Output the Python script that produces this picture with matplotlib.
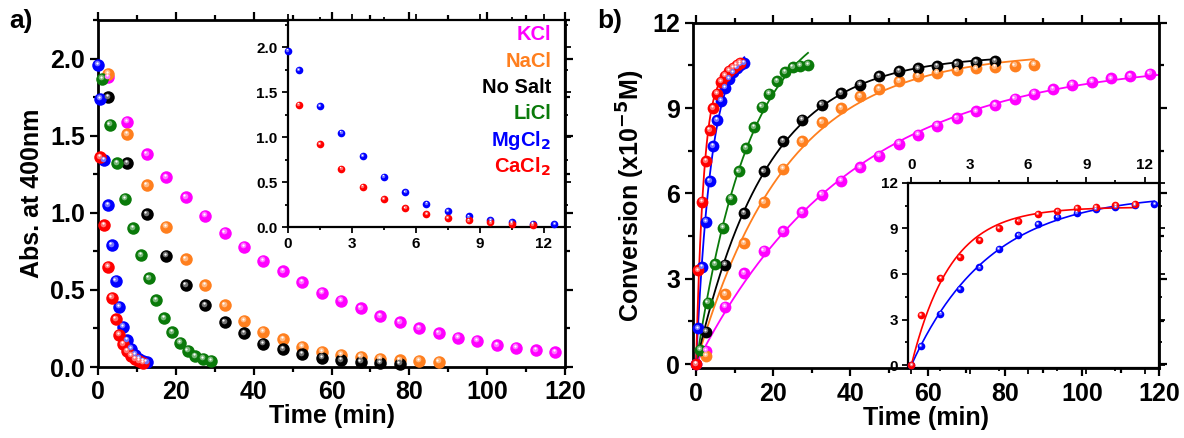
import numpy as np
import matplotlib.pyplot as plt
from matplotlib.ticker import MultipleLocator, FormatStrFormatter
from matplotlib.transforms import offset_copy
from matplotlib.colors import to_rgb

plt.rcParams['font.family'] = ['Liberation Sans', 'DejaVu Sans']
plt.rcParams['font.weight'] = 'bold'
plt.rcParams['mathtext.default'] = 'bf'

# ---- data ----
names = ['KCl', 'NaCl', 'No Salt', 'LiCl', 'MgCl$_2$', 'CaCl$_2$']
colors = ['#FF00FF', '#FF7F1E', '#000000', '#0A7A0A', '#0000FF', '#FF0000']

t_kcl = np.arange(2.5, 118, 5.0)
t_nacl = np.arange(2.5, 88, 5.0)
t_nosalt = np.arange(2.5, 78, 5.0)
t_licl = np.arange(1, 30, 2.0)
t_mgcl2 = np.array([0, 0.5, 1.5, 2.5, 3.5, 4.5, 5.5, 6.5, 7.5, 8.5, 9.5, 10.5, 11.5, 12.5])
t_cacl2_abs = np.array([0.5, 1.5, 2.5, 3.5, 4.5, 5.5, 6.5, 7.5, 8.5, 9.5, 10.5, 11.5])
t_cacl2_conv = np.array([0, 0.5, 1.5, 2.5, 3.5, 4.5, 5.5, 6.5, 7.5, 8.5, 9.5, 10.5, 11.5])

# absorbance at 400 nm (panel a)
abs_kcl = [1.88, 1.59, 1.38, 1.23, 1.10, 0.98, 0.87, 0.78, 0.69, 0.62, 0.55, 0.48,
           0.43, 0.38, 0.33, 0.29, 0.25, 0.22, 0.19, 0.17, 0.14, 0.125, 0.11, 0.095]
abs_nacl = [1.90, 1.51, 1.18, 0.91, 0.70, 0.53, 0.40, 0.30, 0.23, 0.18, 0.13, 0.10,
            0.08, 0.067, 0.052, 0.045, 0.039, 0.034]
abs_nosalt = [1.75, 1.32, 0.99, 0.72, 0.53, 0.40, 0.29, 0.22, 0.15, 0.115, 0.082,
              0.060, 0.045, 0.035, 0.028, 0.022]
abs_licl = [1.87, 1.57, 1.32, 1.09, 0.90, 0.725, 0.574, 0.434, 0.315, 0.225, 0.157,
            0.106, 0.071, 0.052, 0.039]
abs_mgcl2 = [1.96, 1.74, 1.34, 1.05, 0.79, 0.56, 0.39, 0.26, 0.175, 0.117, 0.081,
             0.055, 0.037, 0.030]
abs_cacl2 = [1.36, 0.92, 0.65, 0.45, 0.31, 0.21, 0.146, 0.103, 0.073, 0.051, 0.037, 0.027]

# conversion x1e-5 M (panel b)
conv_kcl = [0.47, 2.02, 3.19, 3.99, 4.68, 5.34, 5.95, 6.44, 6.91, 7.32, 7.75, 8.06,
            8.38, 8.65, 8.88, 9.10, 9.33, 9.50, 9.67, 9.82, 9.92, 10.04, 10.12, 10.21]
conv_nacl = [0.29, 2.46, 4.25, 5.69, 6.87, 7.83, 8.51, 9.00, 9.41, 9.67, 9.94, 10.12,
             10.24, 10.32, 10.39, 10.43, 10.49, 10.53]
conv_nosalt = [1.14, 3.49, 5.31, 6.77, 7.83, 8.59, 9.12, 9.53, 9.82, 10.12, 10.29,
               10.39, 10.47, 10.55, 10.61, 10.65]
conv_licl = [0.50, 2.16, 3.51, 4.80, 5.81, 6.77, 7.59, 8.33, 9.04, 9.51, 9.94, 10.26,
             10.44, 10.49, 10.53]
conv_mgcl2 = [0, 1.25, 3.40, 5.00, 6.43, 7.66, 8.58, 9.26, 9.72, 10.03, 10.25, 10.42,
              10.53, 10.58]
conv_cacl2 = [0, 3.29, 5.71, 7.13, 8.23, 9.00, 9.50, 9.92, 10.14, 10.31, 10.42, 10.53, 10.60]

abs_t = [t_kcl, t_nacl, t_nosalt, t_licl, t_mgcl2, t_cacl2_abs]
abs_y = [abs_kcl, abs_nacl, abs_nosalt, abs_licl, abs_mgcl2, abs_cacl2]
conv_t = [t_kcl, t_nacl, t_nosalt, t_licl, t_mgcl2, t_cacl2_conv]
conv_y = [conv_kcl, conv_nacl, conv_nosalt, conv_licl, conv_mgcl2, conv_cacl2]
fit_end = [120, 87.5, 77.5, 29, 12.5, 11.5]


def first_order_fit(t, y):
    # y = A (1 - exp(-k t)), fitted through the origin
    t = np.concatenate([[0.0], np.asarray(t, float)])
    y = np.concatenate([[0.0], np.asarray(y, float)])
    best = None
    for k in np.linspace(0.002, 2.0, 4000):
        f = 1 - np.exp(-k * t)
        A = np.dot(f, y) / np.dot(f, f)
        err = np.sum((y - A * f) ** 2)
        if best is None or err < best[0]:
            best = (err, A, k)
    return best[1], best[2]


def balls(ax, x, y, color, ms):
    fig = ax.figure
    light = tuple(0.55 * np.array(to_rgb(color)) + 0.45)
    ax.plot(x, y, 'o', color=color, ms=ms, mec=color, mew=0, zorder=3, clip_on=False)
    tr = offset_copy(ax.transData, fig=fig, x=-ms * 0.08, y=ms * 0.12, units='points')
    ax.plot(x, y, 'o', color=light, ms=ms * 0.45, mew=0, zorder=4, transform=tr, clip_on=False)
    tr2 = offset_copy(ax.transData, fig=fig, x=-ms * 0.1, y=ms * 0.16, units='points')
    ax.plot(x, y, 'o', color='white', ms=ms * 0.18, mew=0, zorder=5, transform=tr2, clip_on=False)


def style(ax, lw=2.0, size=18, major=6, minor=3.5):
    for s in ax.spines.values():
        s.set_linewidth(lw)
    ax.tick_params(which='both', direction='out', top=True, right=True, width=lw * 0.8,
                   labelsize=size)
    ax.tick_params(which='major', length=major)
    ax.tick_params(which='minor', length=minor)
    for lab in ax.get_xticklabels() + ax.get_yticklabels():
        lab.set_fontweight('bold')


fig = plt.figure(figsize=(11.84, 4.38), dpi=100)

# ---------------- panel a ----------------
axa = fig.add_axes([0.0828, 0.1621, 0.3944, 0.7922])
for t, y, c in zip(abs_t, abs_y, colors):
    balls(axa, t, y, c, 9)
axa.set_xlim(0, 120)
axa.set_ylim(0, 2.25)
axa.xaxis.set_major_locator(MultipleLocator(20))
axa.xaxis.set_minor_locator(MultipleLocator(10))
axa.yaxis.set_major_locator(MultipleLocator(0.5))
axa.yaxis.set_minor_locator(MultipleLocator(0.25))
axa.yaxis.set_major_formatter(FormatStrFormatter('%.1f'))
axa.set_xlabel('Time (min)', fontsize=18, fontweight='bold', labelpad=0)
axa.set_ylabel('Abs. at 400nm', fontsize=18, fontweight='bold', labelpad=4)
style(axa)
fig.text(0.008, 0.935, 'a)', fontsize=19, fontweight='bold')

ina = fig.add_axes([0.2432, 0.4817, 0.2340, 0.4726])
for t, y, c in zip(abs_t[4:], abs_y[4:], colors[4:]):
    balls(ina, t, y, c, 5.5)
ina.set_xlim(0, 13)
ina.set_ylim(0, 2.3)
ina.xaxis.set_major_locator(MultipleLocator(3))
ina.xaxis.set_minor_locator(MultipleLocator(1.5))
ina.yaxis.set_major_locator(MultipleLocator(0.5))
ina.yaxis.set_minor_locator(MultipleLocator(0.25))
ina.yaxis.set_major_formatter(FormatStrFormatter('%.1f'))
style(ina, lw=1.6, size=11, major=4, minor=2.5)
for i, (n, c) in enumerate(zip(names, colors)):
    ina.text(0.95, 0.93 - i * 0.128, n, transform=ina.transAxes, color=c,
             fontsize=14.5, fontweight='bold', ha='right', va='center')

# ---------------- panel b ----------------
axb = fig.add_axes([0.5856, 0.1591, 0.3935, 0.7891])
fits = []
for t, y, c, te in zip(conv_t, conv_y, colors, fit_end):
    A, k = first_order_fit(t, y)
    fits.append((A, k))
    tt = np.linspace(0, te, 300)
    axb.plot(tt, A * (1 - np.exp(-k * tt)), color=c, lw=1.3, zorder=2)
for t, y, c in zip(conv_t, conv_y, colors):
    balls(axb, t, y, c, 8.5)
axb.set_xlim(-0.7, 120)
axb.set_ylim(-0.15, 12)
axb.xaxis.set_major_locator(MultipleLocator(20))
axb.xaxis.set_minor_locator(MultipleLocator(10))
axb.yaxis.set_major_locator(MultipleLocator(3))
axb.yaxis.set_minor_locator(MultipleLocator(1.5))
axb.set_xlabel('Time (min)', fontsize=18, fontweight='bold', labelpad=0)
axb.set_ylabel('Conversion (x10$^{-5}$M)', fontsize=18, fontweight='bold', labelpad=4)
style(axb)
fig.text(0.504, 0.935, 'b)', fontsize=19, fontweight='bold')

inb = fig.add_axes([0.7672, 0.1591, 0.2119, 0.4238])
for t, y, c, te, (A, k) in zip(conv_t[4:], conv_y[4:], colors[4:], fit_end[4:], fits[4:]):
    tt = np.linspace(0, te, 200)
    inb.plot(tt, A * (1 - np.exp(-k * tt)), color=c, lw=1.2, zorder=2)
    balls(inb, t, y, c, 5.5)
inb.set_xlim(-0.15, 12.75)
inb.set_ylim(-0.2, 12)
inb.xaxis.set_major_locator(MultipleLocator(3))
inb.xaxis.set_minor_locator(MultipleLocator(1.5))
inb.yaxis.set_major_locator(MultipleLocator(3))
inb.yaxis.set_minor_locator(MultipleLocator(1.5))
style(inb, lw=1.6, size=11, major=4, minor=2.5)
inb.tick_params(labeltop=True, labelbottom=False)

fig.savefig('out.png', dpi=100)
